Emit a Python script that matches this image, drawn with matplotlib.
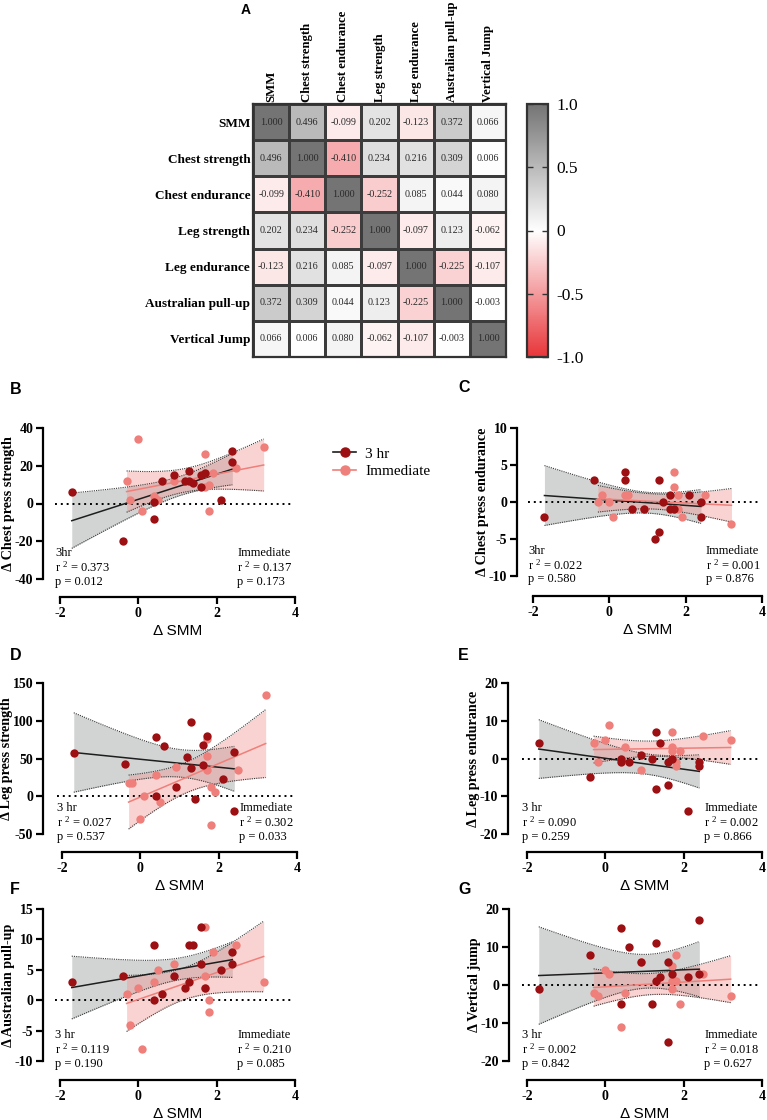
import numpy as np
import matplotlib.pyplot as plt
from matplotlib.colors import LinearSegmentedColormap
from matplotlib.lines import Line2D

plt.rcParams['axes.unicode_minus'] = False
plt.rcParams['mathtext.fontset'] = 'custom'
plt.rcParams['mathtext.rm'] = 'Liberation Serif'
plt.rcParams['mathtext.it'] = 'Liberation Serif:italic'
plt.rcParams['mathtext.bf'] = 'Liberation Serif:bold'

SERIF = 'Liberation Serif'
SANS = 'Liberation Sans'

# correlation matrix (panel A)
measures = ['SMM', 'Chest strength', 'Chest endurance', 'Leg strength',
            'Leg endurance', 'Australian pull-up', 'Vertical Jump']
corr = [
    [1.000, 0.496, -0.099, 0.202, -0.123, 0.372, 0.066],
    [0.496, 1.000, -0.410, 0.234, 0.216, 0.309, 0.006],
    [-0.099, -0.410, 1.000, -0.252, 0.085, 0.044, 0.080],
    [0.202, 0.234, -0.252, 1.000, -0.097, 0.123, -0.062],
    [-0.123, 0.216, 0.085, -0.097, 1.000, -0.225, -0.107],
    [0.372, 0.309, 0.044, 0.123, -0.225, 1.000, -0.003],
    [0.066, 0.006, 0.080, -0.062, -0.107, -0.003, 1.000],
]
cbar_ticks = [-1.0, -0.5, 0, 0.5, 1.0]
cbar_labels = ['-1.0', '-0.5', '0', '0.5', '1.0']

# delta SMM per group
smm_3hr = [-1.7, -0.4, 0.4, 0.4, 0.6, 0.9, 1.2, 1.3, 1.3, 1.4, 1.6, 1.6, 1.7, 2.1, 2.4, 2.4]
smm_imm = [-0.3, -0.2, 0.0, 0.1, 0.4, 0.5, 0.9, 1.7, 1.7, 1.7, 1.8, 1.8, 1.9, 2.5, 3.2]

# outcome changes
chest_str_3hr = [6, -20, 1, -8, 12, 15, 12, 17, 12, 11, 15, 9, 16, 2, 28, 22]
chest_str_imm = [12, 2, 34, -4, 4, 2, 12, 26, 16, 9, 10, -4, 16, 19, 30]
chest_end_3hr = [-2, 3, 4, 3, -1, -1, -5, 3, -4, 0, 1, -1, -1, 1, 0, -2]
chest_end_imm = [0, 1, 0, -2, 1, 1, -1, 4, 2, -1, 1, -1, -2, 1, -3]
leg_str_3hr = [57, 43, 78, 0, 66, 12, 52, 98, 38, -3, 68, 42, 80, 23, 59, -20]
leg_str_imm = [17, 17, -30, 0, 28, -7, 39, 53, 35, 76, 12, -38, 5, 35, 134]
leg_end_3hr = [4, -5, 0, -1, -1, 1, 0, 7, -8, 4, -1, -7, 0, -14, -1, -2]
leg_end_imm = [4, -1, 5, 9, 0, 3, -3, 7, 3, 2, -1, -2, 2, 6, 5]
pullup_3hr = [3, 4, 9, 0, 1, 4, 2, 9, 3, 9, 12, 6, 2, 5, 8, 6]
pullup_imm = [1, -4, 2, -8, 3, 5, 6, 12, 4, 2, 0, -2, 8, 9, 3]
vjump_3hr = [-1, 8, 15, -5, 10, 6, -5, 11, 1, 2, 6, -15, 3, 2, 17, 3]
vjump_imm = [-2, -3, 4, 3, -11, -2, 6, 5, 1, -1, 8, 1, -5, 3, -3]

panel_letters = ['B', 'C', 'D', 'E', 'F', 'G']
y_labels = ['\u0394 Chest press strength', '\u0394 Chest press endurance',
            '\u0394 Leg press strength', '\u0394 Leg press endurance',
            '\u0394 Australian pull-up', '\u0394 Vertical jump']
y_ticks = [[-40, -20, 0, 20, 40], [-10, -5, 0, 5, 10], [-50, 0, 50, 100, 150],
           [-20, -10, 0, 10, 20], [-10, -5, 0, 5, 10, 15], [-20, -10, 0, 10, 20]]
x_ticks = [-2, 0, 2, 4]
tags_3hr = ['3hr', '3hr', '3 hr', '3 hr', '3 hr', '3 hr']
r2_3hr = ['0.373', '0.022', '0.027', '0.090', '0.119', '0.002']
p_3hr = ['0.012', '0.580', '0.537', '0.259', '0.190', '0.842']
r2_imm = ['0.137', '0.001', '0.302', '0.002', '0.210', '0.018']
p_imm = ['0.173', '0.876', '0.033', '0.866', '0.085', '0.627']

DARK = '#9c0f12'
PINK = '#ef7f7a'

W, H = 767, 1120
fig = plt.figure(figsize=(W / 100, H / 100), dpi=100)


def rect(x0, y0, x1, y1):
    return [x0 / W, 1 - y1 / H, (x1 - x0) / W, (y1 - y0) / H]


# ---- panel A: heatmap ----
cmap = LinearSegmentedColormap.from_list('rw', ['#e8363a', '#ffffff', '#747474'])
axh = fig.add_axes(rect(253, 104, 506, 357))
cm = np.array(corr)
mesh = axh.pcolormesh(np.arange(8), np.arange(8), cm, cmap=cmap, vmin=-1, vmax=1,
                      edgecolors='#3c3c3c', linewidth=0.9)
axh.set_xlim(0, 7)
axh.set_ylim(7, 0)
for i in range(7):
    for j in range(7):
        axh.text(j + 0.5, i + 0.5, f'{cm[i, j]:.3f}', ha='center', va='center',
                 fontsize=7.3, family=SERIF, color='#2a2a2a')
axh.xaxis.tick_top()
axh.set_xticks(np.arange(7) + 0.5)
axh.set_xticklabels(measures, rotation=90, family=SERIF, fontweight='bold', fontsize=9.2)
axh.set_yticks(np.arange(7) + 0.5)
axh.set_yticklabels(measures, family=SERIF, fontweight='bold', fontsize=9.5)
axh.tick_params(axis='x', length=0, pad=1.5)
axh.tick_params(axis='y', length=0, pad=2)
for s in axh.spines.values():
    s.set_linewidth(1.6)
    s.set_color('#333333')

cax = fig.add_axes(rect(527, 104, 548, 357))
cb = fig.colorbar(mesh, cax=cax, ticks=cbar_ticks)
cb.ax.set_yticklabels(cbar_labels, family=SERIF, fontsize=12.5)
cb.ax.tick_params(direction='in', left=True, right=True, length=4, width=1, color='#333333', pad=6)
cb.outline.set_linewidth(1.6)
cb.outline.set_edgecolor('#333333')

# ---- panels B-G: scatter with regression ----
boxes = [(60, 428, 295, 579), (533, 428, 762, 576), (62, 683, 297, 834),
         (527, 683, 762, 834), (60, 909, 295, 1061), (527, 909, 762, 1061)]
spine_left = [43, 517, 43, 508, 43, 509]
spine_bottom = [597, 596, 852, 852, 1080, 1080]
letter_pos = [(10, 390), (458, 388), (10, 655), (458, 655), (10, 890), (458, 890)]
series = [(chest_str_3hr, chest_str_imm), (chest_end_3hr, chest_end_imm),
          (leg_str_3hr, leg_str_imm), (leg_end_3hr, leg_end_imm),
          (pullup_3hr, pullup_imm), (vjump_3hr, vjump_imm)]

# two-sided 95% t values
T_CRIT = {13: 2.160, 14: 2.145}


def fit_band(ax, x, y, line_color, fill_color, alpha):
    x = np.asarray(x, float)
    y = np.asarray(y, float)
    n = len(x)
    slope, icpt = np.polyfit(x, y, 1)
    xs = np.linspace(x.min(), x.max(), 100)
    yhat = slope * xs + icpt
    resid = y - (slope * x + icpt)
    s = np.sqrt(np.sum(resid ** 2) / (n - 2))
    se = s * np.sqrt(1 / n + (xs - x.mean()) ** 2 / np.sum((x - x.mean()) ** 2))
    lo, hi = yhat - T_CRIT[n - 2] * se, yhat + T_CRIT[n - 2] * se
    ax.fill_between(xs, lo, hi, color=fill_color, alpha=alpha, lw=0, zorder=1)
    for b in (lo, hi):
        ax.plot(xs, b, color='#3a3a3a', lw=0.8, ls=(0, (1, 1)), zorder=2)
    ax.plot(xs, yhat, color=line_color, lw=1.1, zorder=3)


for k in range(6):
    x0, y0, x1, y1 = boxes[k]
    ax = fig.add_axes(rect(*boxes[k]))
    y3, yi = series[k]
    ax.set_xlim(-2, 4)
    ax.set_ylim(y_ticks[k][0], y_ticks[k][-1])

    fit_band(ax, smm_3hr, y3, '#1e1e1e', '#b4b8b8', 0.6)
    fit_band(ax, smm_imm, yi, PINK, '#f2918c', 0.4)
    ax.axhline(0, xmin=-0.02, xmax=0.99, color='black', lw=1.4, ls=(0, (1, 2)),
               clip_on=False, zorder=2)
    ax.scatter(smm_imm, yi, s=36, color=PINK, zorder=4, clip_on=False, linewidths=0)
    ax.scatter(smm_3hr, y3, s=36, color=DARK, zorder=5, clip_on=False, linewidths=0)

    for s in ['top', 'right']:
        ax.spines[s].set_visible(False)
    ax.spines['left'].set_position(('outward', (x0 - spine_left[k]) * 0.72))
    ax.spines['bottom'].set_position(('outward', (spine_bottom[k] - y1) * 0.72))
    for s in ['left', 'bottom']:
        ax.spines[s].set_linewidth(1.6)
    ax.set_xticks(x_ticks)
    ax.set_yticks(y_ticks[k])
    ax.tick_params(width=1.6, length=5, labelsize=10, pad=2)
    for lab in ax.get_xticklabels() + ax.get_yticklabels():
        lab.set_family(SERIF)
        lab.set_fontweight('bold')
    ax.set_ylabel(y_labels[k], family=SERIF, fontweight='bold', fontsize=10.2, labelpad=0)
    ax.set_xlabel('\u0394 SMM', family=SANS, fontsize=11, labelpad=3)

    lines3 = [tags_3hr[k], 'r $^{2}$ = ' + r2_3hr[k], 'p = ' + p_3hr[k]]
    linesi = ['Immediate', 'r $^{2}$ = ' + r2_imm[k], 'p = ' + p_imm[k]]
    for j, yy in enumerate([0.17, 0.075, -0.02]):
        ax.text(-0.02, yy, lines3[j], transform=ax.transAxes, family=SERIF,
                fontsize=9, va='center', ha='left')
        ax.text(0.755, yy, linesi[j], transform=ax.transAxes, family=SERIF,
                fontsize=9, va='center', ha='left')

    lx, ly = letter_pos[k]
    fig.text(lx / W, 1 - ly / H, panel_letters[k], family=SANS, fontweight='bold',
             fontsize=11.5, va='center')

fig.text(241 / W, 1 - 10 / H, 'A', family=SANS, fontweight='bold', fontsize=10, va='center')

handles = [Line2D([], [], color='#1e1e1e', lw=1.2, marker='o', markersize=6.5,
                  markerfacecolor=DARK, markeredgecolor=DARK),
           Line2D([], [], color=PINK, lw=1.2, marker='o', markersize=6.5,
                  markerfacecolor=PINK, markeredgecolor=PINK)]
fig.legend(handles, ['3 hr', 'Immediate'], loc='upper left',
           bbox_to_anchor=(327 / W, 1 - 441 / H), frameon=False,
           prop={'family': SERIF, 'size': 11}, handlelength=1.5,
           handletextpad=0.6, labelspacing=0.25, borderaxespad=0)

fig.savefig('out.png', dpi=100)
